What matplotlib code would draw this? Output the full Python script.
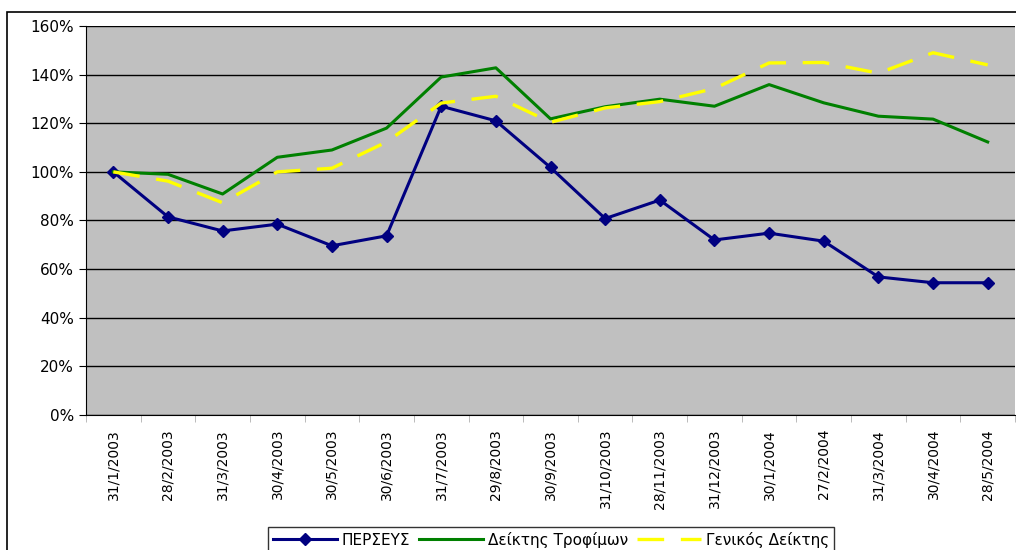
import matplotlib.pyplot as plt
import matplotlib.patches as patches
from matplotlib.ticker import FuncFormatter, MultipleLocator
import numpy as np

# dates of the monthly observations
dates = ["31/1/2003", "28/2/2003", "31/3/2003", "30/4/2003", "30/5/2003", "30/6/2003",
         "31/7/2003", "29/8/2003", "30/9/2003", "31/10/2003", "28/11/2003", "31/12/2003",
         "30/1/2004", "27/2/2004", "31/3/2004", "30/4/2004", "28/5/2004"]

# values in percent (base 100 at 31/1/2003)
perseus = [100, 81.5, 75.7, 78.5, 69.6, 73.7, 127, 121, 101.8, 80.8, 88.4,
           72, 74.8, 71.5, 56.8, 54.4, 54.4]
food_index = [100, 99, 90.9, 106, 109, 118, 139, 142.8, 121.8, 126.8, 129.9,
              127, 135.9, 128.4, 122.9, 121.7, 112.3]
general_index = [100, 96.2, 87.3, 100, 101.5, 112.3, 128.3, 131.1, 120.4, 126.3, 128.9,
                 134.3, 144.8, 145, 140.6, 149, 144]

plt.rcParams['font.family'] = ['DejaVu Sans']

fig = plt.figure(figsize=(10.16, 5.5), dpi=100)
ax = fig.add_axes([86/1016, 1 - 415/550, 929/1016, 389/550])

# outer chart border
fig.patches.append(patches.Rectangle((7/1016, -0.05), 1.1, 1 - 12/550 + 0.05,
                                     transform=fig.transFigure, fill=False,
                                     edgecolor="black", linewidth=1.2))

x = np.arange(len(dates))
ax.set_facecolor("#C0C0C0")
ax.plot(x, perseus, color="#000080", linewidth=2.2, marker="D", markersize=6,
        label="ΠΕΡΣΕΥΣ")
ax.plot(x, food_index, color="#008000", linewidth=2.2, label="Δείκτης Τροφίμων")
ax.plot(x, general_index, color="#FFFF00", linewidth=2.4, dashes=(8, 5),
        label="Γενικός Δείκτης")

ax.set_ylim(0, 160)
ax.set_xlim(-0.5, len(dates) - 0.5)
ax.yaxis.set_major_locator(MultipleLocator(20))
ax.yaxis.set_major_formatter(FuncFormatter(lambda v, p: f"{v:.0f}%"))
ax.grid(axis="y", color="black", linewidth=1)
ax.set_axisbelow(True)

ax.set_xticks(x)
ax.set_xticklabels(dates, rotation=90, fontsize=10)
ax.set_xticks(np.arange(-0.5, len(dates)), minor=True)
ax.tick_params(axis="x", which="major", length=0, pad=10)
ax.tick_params(axis="x", which="minor", length=5, color="#B0B0B0")
ax.tick_params(axis="y", labelsize=11, length=5)

for s in ["top", "right"]:
    ax.spines[s].set_visible(False)
ax.spines["left"].set_color("black")
ax.spines["bottom"].set_color("black")

leg = fig.legend(loc="upper center", bbox_to_anchor=(551/1016, 1 - 527/550),
                 ncol=3, fontsize=11, frameon=True, fancybox=False,
                 edgecolor="black", handlelength=4.2, columnspacing=0.6,
                 handletextpad=0.3, borderpad=0.3, borderaxespad=0)
leg.get_frame().set_linewidth(1)

fig.savefig("out.png", dpi=100)
